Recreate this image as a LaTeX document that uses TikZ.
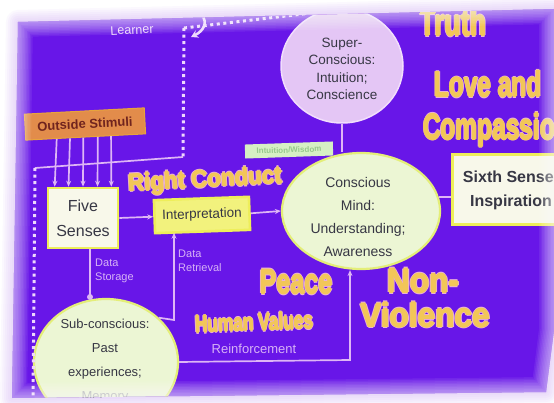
\documentclass[tikz,border=0pt]{standalone}
\usepackage{fontspec}
\setmainfont{Liberation Sans}
\usetikzlibrary{arrows.meta,shapes.geometric,calc}
\definecolor{slide}{RGB}{104,22,232}
\definecolor{haze}{RGB}{205,170,245}
\definecolor{lav}{RGB}{222,182,245}
\definecolor{lavwhite}{RGB}{238,215,252}
\definecolor{gold}{RGB}{242,198,88}
\definecolor{goldedge}{RGB}{236,178,214}
\definecolor{txtdark}{RGB}{55,55,68}
\definecolor{boxyel}{RGB}{238,238,90}
\definecolor{boxfill}{RGB}{248,248,234}
\definecolor{interpfill}{RGB}{242,242,125}
\definecolor{ellfill}{RGB}{236,246,212}
\definecolor{elldraw}{RGB}{228,238,120}
\definecolor{superfill}{RGB}{228,198,245}
\definecolor{superdraw}{RGB}{242,222,252}
\definecolor{orangebox}{RGB}{226,140,75}
\definecolor{orangetext}{RGB}{112,36,30}
\definecolor{labeltext}{RGB}{215,178,246}
\definecolor{greenlabel}{RGB}{214,240,196}
\definecolor{greentext}{RGB}{150,200,140}
\newcommand\offcopies[2]{%
  \makebox[0pt][l]{\hspace{-#1}#2}%
  \makebox[0pt][l]{\hspace{#1}#2}%
  \makebox[0pt][l]{\raisebox{#1}{#2}}%
  \makebox[0pt][l]{\raisebox{-#1}{#2}}}
\newcommand\glowword[1]{%
  \makebox[0pt][l]{\color{goldedge}\offcopies{1.6pt}{#1}}%
  \makebox[0pt][l]{\color{gold}\offcopies{0.7pt}{#1}}%
  \textcolor{gold}{#1}}
\tikzset{
  conn/.style={draw=lav, line width=1.7pt},
  arr/.style={-{Stealth[length=6pt,width=5pt]}},
  dotline/.style={draw=lavwhite, line width=3pt, dash pattern=on 3pt off 3.6pt},
  yelbox/.style={draw=boxyel, line width=2.6pt, fill=boxfill, text=txtdark, align=center, inner sep=0pt},
  bigword/.style={inner sep=0pt, font=\bfseries\fontsize{#1}{#1}\selectfont},
  smalllabel/.style={text=labeltext, inner sep=0pt, align=left, font=\fontsize{11}{14}\selectfont},
  elltext/.style={text=txtdark, align=center, inner sep=0pt},
}
\begin{document}
\begin{tikzpicture}[x=1pt,y=-1pt]
\useasboundingbox (0,0) rectangle (554,403);
\fill[white] (0,0) rectangle (554,403);
\coordinate (s1) at (18,22);
\coordinate (s2) at (554,9);
\coordinate (s3) at (554,330);
\coordinate (s4) at (546,392);
\coordinate (s5) at (12,398);
\foreach \w in {4,8,...,24}{
  \draw[haze, opacity=.08, line width=\w pt, line join=round] (s1)--(s2)--(s3)--(s4)--(s5)--cycle;
}
\fill[slide] (s1)--(s2)--(s3)--(s4)--(s5)--cycle;
\begin{scope}
\clip (s1)--(s2)--(s3)--(s4)--(s5)--cycle;

% big yellow words
\node[bigword=38, anchor=base] (truth) at (453,36) {\scalebox{0.7}[1]{\glowword{Truth}}};
\node[bigword=36] (love) at (488,84) {\scalebox{0.68}[1]{\glowword{Love and}}};
\node[bigword=36, anchor=west] (comp) at (423,130) {\scalebox{0.68}[1]{\glowword{Compassion}}};
\node[bigword=24, rotate=3] (right) at (205,181) {\scalebox{0.93}[1]{\glowword{Right Conduct}}};
\node[bigword=34] (peace) at (296,282) {\scalebox{0.74}[1]{\glowword{Peace}}};
\node[bigword=34] (non) at (423,281) {\scalebox{0.93}[1]{\glowword{Non-}}};
\node[bigword=34] (viol) at (425,315) {\scalebox{0.93}[1]{\glowword{Violence}}};
\node[bigword=24, rotate=2] (hv) at (254,322) {\scalebox{0.72}[1]{\glowword{Human Values}}};

% boxes and ellipses
\node[draw=orangebox!80!yellow, line width=1pt, fill=orangebox, text=orangetext, rotate=3,
      minimum width=120pt, minimum height=26pt, inner sep=0pt,
      font=\bfseries\fontsize{13}{13}\selectfont] (stim) at (85,124) {Outside Stimuli};
\node[yelbox, minimum width=70pt, minimum height=60pt,
      font=\fontsize{16}{25}\selectfont] (five) at (83,218) {Five\\Senses};
\node[yelbox, fill=interpfill, rotate=2, minimum width=95pt, minimum height=33pt,
      font=\fontsize{13.5}{14}\selectfont] (interp) at (202,215) {Interpretation};
\node[ellipse, draw=elldraw, line width=2.2pt, fill=ellfill,
      minimum width=158pt, minimum height=116pt] (cm) at (361,211) {};
\node[elltext, font=\fontsize{14}{23}\selectfont] (cmtext) at (358,217)
      {Conscious\\Mind:\\Understanding;\\Awareness};
\node[ellipse, draw=superdraw, line width=1.5pt, fill=superfill,
      minimum width=122pt, minimum height=114pt] (super) at (342,66) {};
\node[elltext, font=\fontsize{13.5}{17.5}\selectfont] (supertext) at (342,69)
      {Super-\\Conscious:\\Intuition;\\Conscience};
\node[ellipse, draw=elldraw, line width=2.2pt, fill=ellfill,
      minimum width=144pt, minimum height=126pt] (sub) at (106,362) {};
\node[elltext, font=\fontsize{13}{24}\selectfont] (subtext) at (105,361)
      {Sub-conscious:\\Past\\experiences;\\\textcolor{txtdark!45}{Memory}};
\node[yelbox, line width=3pt, minimum width=118pt, minimum height=70pt,
      font=\bfseries\fontsize{16}{24}\selectfont] (sixth) at (511,190)
      {Sixth Sense:\\Inspiration};
\node[fill=greenlabel, rotate=2, minimum width=88pt, minimum height=14pt, inner sep=0pt,
      text=greentext, font=\bfseries\fontsize{8}{8}\selectfont] (intu) at (289,150) {Intuition/Wisdom};

% small labels
\node[text=lavwhite, rotate=3, inner sep=0pt, font=\fontsize{12.5}{12.5}\selectfont] (learner) at (132,30) {Learner};
\node[smalllabel, anchor=north west] (dstore) at (95,259) {Data\\Storage};
\node[smalllabel, anchor=north west] (dretr) at (178,250) {Data\\Retrieval};
\node[text=labeltext, inner sep=0pt, font=\fontsize{13}{13}\selectfont] (reinf) at (254,349) {Reinforcement};

% learner loop
\coordinate (L1) at (184,28);
\coordinate (L2) at (183,157);
\coordinate (L3) at (35,168);
\coordinate (L4) at (33,400);
\coordinate (curlA) at (176,11);
\coordinate (curlB) at (191,37);
\draw[dotline] (L1) -- (L2);
\draw[conn] (L2) -- (L3);
\draw[dotline] (L3) -- (L4);
\draw[dotline] (L1) -- (super.112);
\draw[lavwhite, line width=2.6pt, -{Stealth[length=7pt,width=8pt]}]
      (curlA) .. controls (204,2) and (214,26) .. (curlB);

% stimuli arrows
\foreach \a/\b in {0.26/0.11, 0.37/0.30, 0.48/0.50, 0.60/0.70, 0.71/0.89}{
  \draw[conn, arr] ($(stim.south west)!\a!(stim.south east)$) -- ($(five.north west)!\b!(five.north east)$);
}

% main flow
\draw[conn, arr] (five.east) -- (interp.west);
\draw[conn, arr] (interp.east) -- (cm.west);
\draw[conn] (super.south) -- (super.south |- cm.north);
\draw[conn] (cm.10) -- (cm.10 -| sixth.west);

% data storage
\coordinate (ds) at (90,297);
\draw[conn] (five.south -| ds) -- (ds);
\fill[lav] (ds) circle (3pt);

% data retrieval
\coordinate (dr) at (174,320);
\draw[conn, arr] (sub.40) -- (dr) -- (dr |- interp.south);

% reinforcement
\coordinate (rf) at (350,360);
\draw[conn, arr] (sub.east) -- (rf) -- (rf |- cm.south);

% soft inner edge glow
\foreach \w in {3,6,...,30}{
  \draw[white, opacity=.07, line width=\w pt, line join=round] (s1)--(s2)--(s3)--(s4)--(s5)--cycle;
}
\end{scope}
\end{tikzpicture}
\end{document}
